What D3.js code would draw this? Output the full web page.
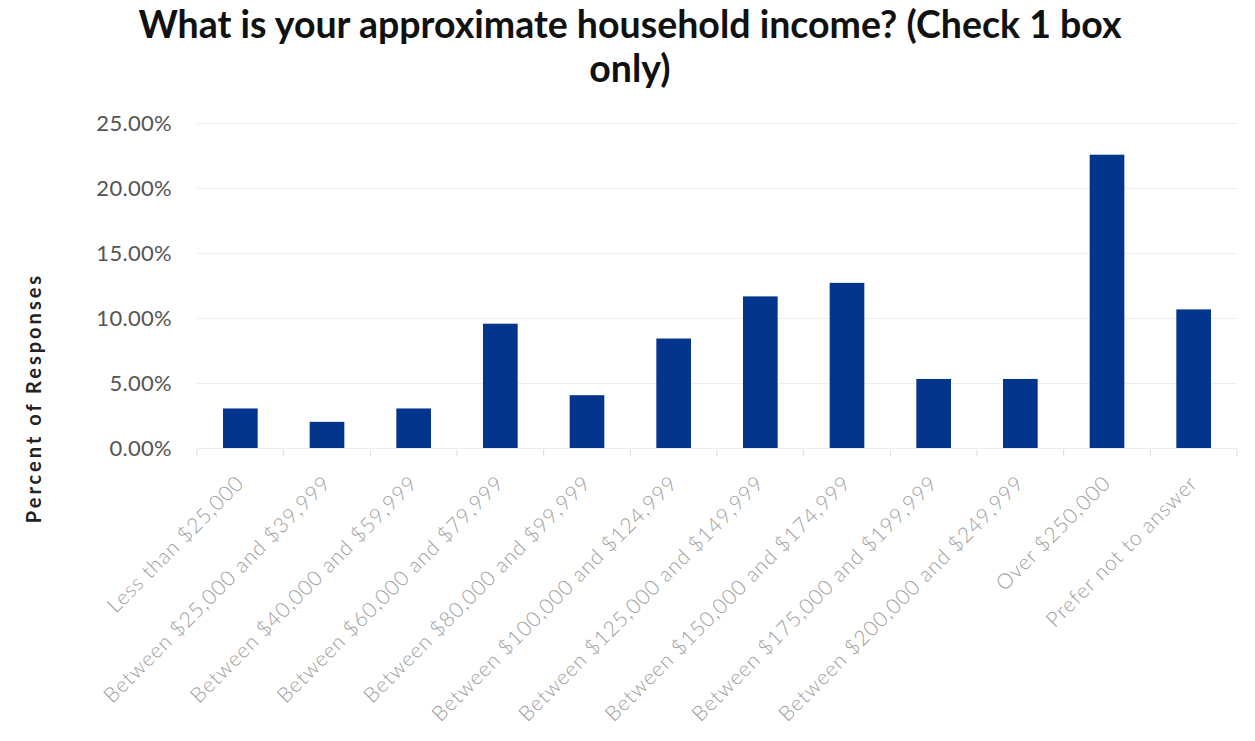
<!DOCTYPE html>
<html><head><meta charset="utf-8">
<script src="https://cdn.jsdelivr.net/npm/d3@7"></script>
<style>body{margin:0;background:#fff}</style>
</head><body>
<svg id="c" width="1255" height="741"></svg>
<script>
const categories = ["Less than $25,000","Between $25,000 and $39,999","Between $40,000 and $59,999","Between $60,000 and $79,999","Between $80,000 and $99,999","Between $100,000 and $124,999","Between $125,000 and $149,999","Between $150,000 and $174,999","Between $175,000 and $199,999","Between $200,000 and $249,999","Over $250,000","Prefer not to answer"];
const values = [3.08, 2.05, 3.08, 9.6, 4.1, 8.46, 11.7, 12.74, 5.35, 5.35, 22.6, 10.7];
const yTicks = [0, 5, 10, 15, 20, 25];
const title = ["What is your approximate household income? (Check 1 box", "only)"];
const yTitle = "Percent of Responses";

const svg = d3.select("#c");
const m = {l:197, r:1237, t:123.5, b:448.5};
const x = d3.scaleBand().domain(categories).range([m.l, m.r]).paddingInner(0.6).paddingOuter(0.3);
const xb = d3.scaleBand().domain(categories).range([m.l, m.r]);
const y = d3.scaleLinear().domain([0,25]).range([m.b, m.t]);

// gridlines
svg.append("g").selectAll("line").data(yTicks.slice(1)).join("line")
  .attr("x1", m.l).attr("x2", m.r).attr("y1", d=>y(d)).attr("y2", d=>y(d))
  .attr("stroke", "#eeeeee").attr("stroke-width", 1);

// y axis labels
const ya = svg.append("g").attr("transform", `translate(${m.l},0)`)
  .call(d3.axisLeft(y).tickValues(yTicks).tickSize(0).tickPadding(25).tickFormat(d=>d3.format(".2f")(d)+"%"));
ya.select(".domain").remove();
ya.selectAll("text").attr("font-family","Lato").attr("font-size","22px").attr("letter-spacing","0.3px").attr("fill","#555");

// bars
svg.append("g").selectAll("rect").data(values).join("rect")
  .attr("x", (d,i)=>x(categories[i])).attr("width", x.bandwidth())
  .attr("y", d=>y(d)).attr("height", d=>y(0)-y(d))
  .attr("fill", "#03358c");

// x axis
const xa = svg.append("g").attr("transform", `translate(0,${m.b})`);
xa.append("line").attr("x1", m.l).attr("x2", m.r).attr("stroke", "#ececec");
xa.selectAll("line.t").data(categories.concat(["_end"])).join("line").attr("class","t")
  .attr("x1", (d,i)=>m.l + i*xb.step()).attr("x2", (d,i)=>m.l + i*xb.step())
  .attr("y1", 1).attr("y2", 8).attr("stroke", "#dcdcdc");
xa.selectAll("text").data(categories).join("text")
  .attr("transform", d=>`translate(${xb(d)+xb.bandwidth()/2+5},${36}) rotate(-45)`)
  .attr("text-anchor","end").attr("font-family","Lato").attr("font-weight","300")
  .attr("font-size","21px").attr("letter-spacing","0.9px").attr("fill","#a0a0a0").text(d=>d);

// title
svg.append("g").selectAll("text").data(title).join("text")
  .attr("x", 630).attr("y", (d,i)=>38 + i*44).attr("text-anchor","middle")
  .attr("font-family","Lato").attr("font-weight","bold").attr("font-size","37.5px").attr("fill","#111")
  .text(d=>d);

// y title
svg.append("text").attr("transform","translate(41,398) rotate(-90)").attr("text-anchor","middle")
  .attr("font-family","Lato").attr("font-weight","bold").attr("font-size","20px").attr("letter-spacing","3px").attr("fill","#222")
  .text(yTitle);
</script>
</body></html>
